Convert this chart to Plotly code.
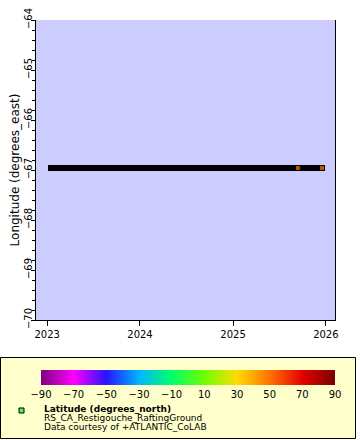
import plotly.graph_objects as go

# ---- data ----
record_dates = ["2023-01-16", "2025-12-17"]          # continuous record (dense points)
record_lon = [-66.96, -66.96]
point_dates = ["2025-09-13", "2025-12-17"]            # isolated visible points
point_lon = [-66.96, -66.96]
point_lat = [47.9, 47.9]
y_ticks = [-70, -69, -68, -67, -66, -65, -64]
x_tick_dates = ["2023-01-01", "2024-01-01", "2025-01-01", "2026-01-01"]
x_tick_text = ["2023", "2024", "2025", "2026"]
cbar_ticks = [-90, -70, -50, -30, -10, 10, 30, 50, 70, 90]
legend_lines = ["RS_CA_Restigouche_RaftingGround", "Data courtesy of +ATLANTIC_CoLAB"]

rainbow = [
    [0.0, "rgb(128,0,128)"],
    [1/9, "rgb(255,0,255)"],
    [2/9, "rgb(40,20,255)"],
    [3/9, "rgb(0,180,255)"],
    [4/9, "rgb(0,255,110)"],
    [5/9, "rgb(110,255,0)"],
    [6/9, "rgb(255,220,0)"],
    [7/9, "rgb(255,115,0)"],
    [8/9, "rgb(230,0,0)"],
    [1.0, "rgb(120,0,0)"],
]

FONT = "DejaVu Sans"
W, H = 360, 440
ML, MR, MT, MB = 36, 25, 20, 120
PW, PH = W - ML - MR, H - MT - MB


def px(x):
    return (x - ML) / PW


def py(y):
    return (H - MB - y) / PH


fig = go.Figure()
fig.add_trace(go.Scatter(
    x=record_dates, y=record_lon, mode="lines+markers",
    line=dict(color="black", width=6),
    marker=dict(symbol="square", size=6, color="black"),
    showlegend=False, hoverinfo="skip"))
fig.add_trace(go.Scatter(
    x=point_dates, y=point_lon, mode="markers",
    marker=dict(symbol="square", size=[4, 5], color=point_lat,
                colorscale=rainbow, cmin=-90, cmax=90,
                line=dict(color="black", width=[0, 1]),
                showscale=True,
                colorbar=dict(orientation="h", x=px(188), xanchor="center",
                              y=py(370), yanchor="top", len=294, lenmode="pixels",
                              thickness=15, thicknessmode="pixels",
                              xpad=0, ypad=0, outlinewidth=0,
                              tickvals=cbar_ticks, ticks="",
                              tickfont=dict(family=FONT, size=10, color="black"))),
    showlegend=False, hoverinfo="skip"))

fig.update_layout(
    width=W, height=H, margin=dict(l=ML, r=MR, t=MT, b=MB, autoexpand=False),
    paper_bgcolor="white", plot_bgcolor="#CCCCFF",
    font=dict(family=FONT, size=10, color="black"),
    xaxis=dict(type="date", range=["2022-11-18", "2026-02-06"], automargin=False,
               tickvals=x_tick_dates, ticktext=x_tick_text,
               ticks="outside", ticklen=5, tickcolor="black",
               showline=True, linecolor="black", linewidth=1,
               showgrid=False, zeroline=False,
               tickfont=dict(family=FONT, size=10)),
    yaxis=dict(range=[-70, -64], tickvals=y_ticks, tickangle=-90, automargin=False,
               ticks="outside", ticklen=4, tickcolor="black", ticklabelstandoff=-5,
               minor=dict(dtick=0.2, ticks="outside", ticklen=3, tickcolor="black", showgrid=False),
               showline=True, linecolor="black", linewidth=1, mirror=True,
               showgrid=False, zeroline=False,
               tickfont=dict(family=FONT, size=10),
               title=dict(text="Longitude (degrees_east)", standoff=0,
                          font=dict(family=FONT, size=12))),
)

# legend box
fig.add_shape(type="rect", xref="paper", yref="paper",
              x0=px(0.5), x1=px(355.5), y0=py(438.5), y1=py(357.5),
              line=dict(color="black", width=1), fillcolor="#FFFFCC", layer="below")
# legend marker
fig.add_shape(type="rect", xref="paper", yref="paper",
              x0=px(19), x1=px(24), y0=py(413), y1=py(408),
              line=dict(color="black", width=1), fillcolor="#44FF44")

fig.add_annotation(xref="paper", yref="paper", x=px(42), y=py(409),
                   xanchor="left", yanchor="middle", showarrow=False,
                   text="<b>Latitude (degrees_north)</b>",
                   font=dict(family=FONT, size=9, color="black"))
for i, t in enumerate(legend_lines):
    fig.add_annotation(xref="paper", yref="paper", x=px(42), y=py(418 + 9 * i),
                       xanchor="left", yanchor="middle", showarrow=False,
                       text=t, font=dict(family=FONT, size=9, color="black"))

fig.write_html("out.html", config={"displayModeBar": False},
               post_script="document.body.style.margin='0';document.body.style.overflow='hidden';")
